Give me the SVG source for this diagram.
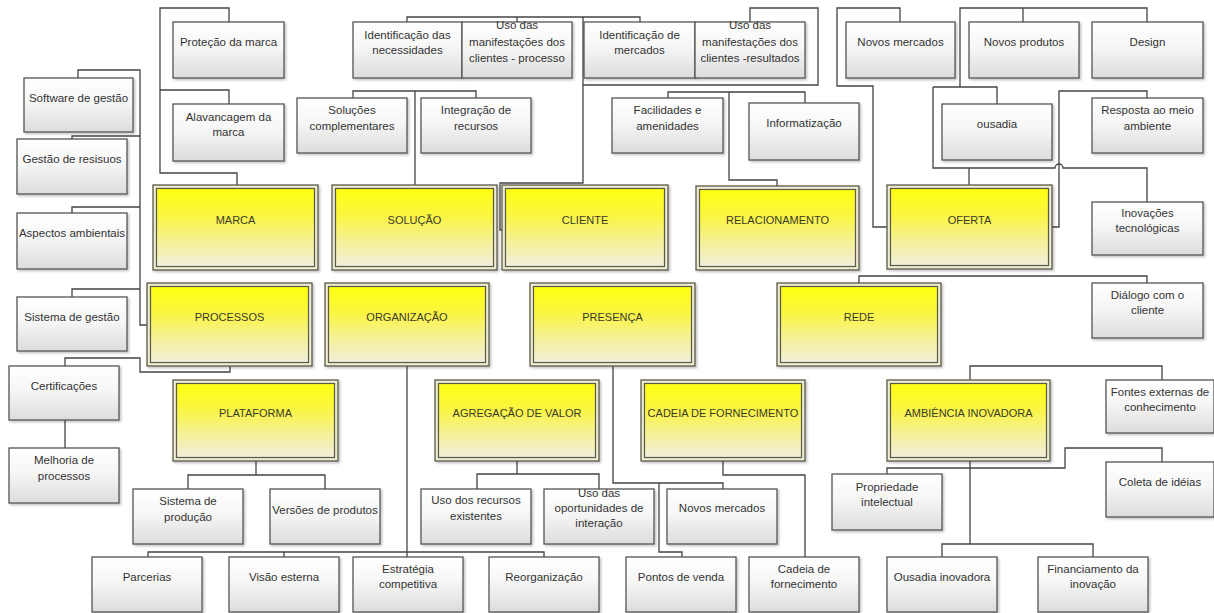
<svg xmlns="http://www.w3.org/2000/svg" width="1214" height="613" viewBox="0 0 1214 613">
<defs>
<linearGradient id="gGray" x1="0" y1="0" x2="0" y2="1">
<stop offset="0" stop-color="#ffffff"/>
<stop offset="0.45" stop-color="#f6f6f6"/>
<stop offset="1" stop-color="#dcdcdc"/>
</linearGradient>
<linearGradient id="gYel" x1="0" y1="0" x2="0" y2="1">
<stop offset="0" stop-color="#ffff10"/>
<stop offset="0.35" stop-color="#faf542"/>
<stop offset="0.7" stop-color="#f4f09c"/>
<stop offset="1" stop-color="#f1efdc"/>
</linearGradient>
<filter id="sh" x="-10%" y="-10%" width="125%" height="130%">
<feDropShadow dx="1.5" dy="1.5" stdDeviation="1.2" flood-color="#000" flood-opacity="0.25"/>
</filter>
<style>
.c{fill:none;stroke:#444;stroke-width:1.3}
.b{fill:url(#gGray);stroke:#555;stroke-width:1.3;filter:url(#sh)}
.yo{fill:#ecead0;stroke:#5a5a4a;stroke-width:1.3;filter:url(#sh)}
.yi{fill:url(#gYel);stroke:#5a5a4a;stroke-width:1.2}
.t{font-family:'Liberation Sans',Arial,sans-serif;font-size:11.5px;fill:#333;text-anchor:middle}
.yt{font-family:'Liberation Sans',Arial,sans-serif;font-size:11px;fill:#3a3a28;text-anchor:middle}
</style>
</defs>
<rect width="1214" height="613" fill="#ffffff"/>

<g id="connectors">
<!-- MARCA -->
<path class="c" d="M229,22 V8 H160 V173 H237 V185"/>
<path class="c" d="M160,90 H229 V104"/>
<!-- PROCESSOS left column -->
<path class="c" d="M78,78 V70 H140 V325 H147"/>
<path class="c" d="M72,139 V136 H140"/>
<path class="c" d="M72,213 V207 H140"/>
<path class="c" d="M72,297 V289 H140"/>
<path class="c" d="M65,366 V358 H140 V372 H230 V366"/>
<path class="c" d="M65,420 V448"/>
<!-- SOLUCAO -->
<path class="c" d="M353,98 V91 H476 V98"/>
<path class="c" d="M415,91 V185"/>
<!-- CLIENTE -->
<path class="c" d="M407,22 V17 H640 V22"/>
<path class="c" d="M517,17 V22"/>
<path class="c" d="M583,17 V183 H500 V230 H502"/>
<path class="c" d="M583,85 H818 V8 H750 V22"/>
<!-- RELACIONAMENTO -->
<path class="c" d="M668,98 V92 H805 V103"/>
<path class="c" d="M729,92 V180 H777 V186"/>
<!-- OFERTA -->
<path class="c" d="M900,22 V8 H837 V86 H873 V227 H887"/>
<path class="c" d="M960,87 V8 H1147 V22"/>
<path class="c" d="M1023,8 V22"/>
<path class="c" d="M933,87 H997 V104"/>
<path class="c" d="M933,87 V168 H1055 A4,4 0 0 1 1063,168 H1147 V202"/>
<path class="c" d="M969,168 V185"/>
<path class="c" d="M1052,227 H1059 V91 H1147 V98"/>
<!-- REDE -->
<path class="c" d="M859,283 V276 H1147 V283"/>
<!-- AMBIENCIA -->
<path class="c" d="M970,380 V366 H1162 V380"/>
<path class="c" d="M970,461 V544"/>
<path class="c" d="M942,557 V544 H1093 V557"/>
<path class="c" d="M1162,462 V448 H1065 V468 H887 V474"/>
<!-- ORGANIZACAO -->
<path class="c" d="M407,366 V557"/>
<path class="c" d="M148,557 V552 H544 V557"/>
<path class="c" d="M284,552 V557"/>
<!-- PLATAFORMA -->
<path class="c" d="M256,461 V475"/>
<path class="c" d="M188,489 V475 H325 V489"/>
<!-- AGREGACAO -->
<path class="c" d="M517,461 V474"/>
<path class="c" d="M477,489 V474 H599 V489"/>
<!-- PRESENCA -->
<path class="c" d="M613,366 V483 H723 V489"/>
<path class="c" d="M659,483 V552 H682 V557"/>
<!-- CADEIA -->
<path class="c" d="M723,461 V475 H805 V557"/>
</g>

<!-- Gray nodes -->
<g id="protecao"><rect class="b" x="173" y="22" width="111" height="56"/><text class="t" x="228.5" y="46">Proteção da marca</text></g>
<g id="alavancagem"><rect class="b" x="173" y="104" width="111" height="57"/><text class="t" x="228.5" y="121">Alavancagem da</text><text class="t" x="228.5" y="136">marca</text></g>
<g id="software"><rect class="b" x="24" y="78" width="109" height="54"/><text class="t" x="78.5" y="102">Software de gestão</text></g>
<g id="gestao-residuos"><rect class="b" x="17" y="139" width="110" height="55"/><text class="t" x="72" y="163">Gestão de resisuos</text></g>
<g id="aspectos"><rect class="b" x="17" y="213" width="110" height="56"/><text class="t" x="72" y="237">Aspectos ambientais</text></g>
<g id="sistema-gestao"><rect class="b" x="17" y="297" width="110" height="54"/><text class="t" x="72" y="321">Sistema de gestão</text></g>
<g id="certificacoes"><rect class="b" x="9" y="366" width="110" height="54"/><text class="t" x="64" y="390">Certificações</text></g>
<g id="melhoria"><rect class="b" x="9" y="448" width="110" height="55"/><text class="t" x="64" y="464">Melhoria de</text><text class="t" x="64" y="480">processos</text></g>
<g id="ident-necessidades"><rect class="b" x="353" y="22" width="109" height="56"/><text class="t" x="407.5" y="39">Identificação das</text><text class="t" x="407.5" y="54">necessidades</text></g>
<g id="uso-processo"><rect class="b" x="462" y="22" width="110" height="56"/><text class="t" x="517" y="29">Uso das</text><text class="t" x="517" y="46">manifestações dos</text><text class="t" x="517" y="62">clientes - processo</text></g>
<g id="solucoes-compl"><rect class="b" x="297" y="98" width="110" height="55"/><text class="t" x="352" y="114">Soluções</text><text class="t" x="352" y="130">complementares</text></g>
<g id="integracao"><rect class="b" x="421" y="98" width="110" height="55"/><text class="t" x="476" y="114">Integração de</text><text class="t" x="476" y="130">recursos</text></g>
<g id="ident-mercados"><rect class="b" x="584" y="22" width="111" height="56"/><text class="t" x="639.5" y="39">Identificação de</text><text class="t" x="639.5" y="54">mercados</text></g>
<g id="uso-resultados"><rect class="b" x="695" y="22" width="110" height="56"/><text class="t" x="750" y="29">Uso das</text><text class="t" x="750" y="46">manifestações dos</text><text class="t" x="750" y="62">clientes -resultados</text></g>
<g id="facilidades"><rect class="b" x="612" y="98" width="111" height="55"/><text class="t" x="667.5" y="114">Facilidades e</text><text class="t" x="667.5" y="130">amenidades</text></g>
<g id="informatizacao"><rect class="b" x="749" y="103" width="110" height="57"/><text class="t" x="804" y="127">Informatização</text></g>
<g id="novos-mercados-top"><rect class="b" x="846" y="22" width="109" height="56"/><text class="t" x="900.5" y="46">Novos mercados</text></g>
<g id="novos-produtos"><rect class="b" x="969" y="22" width="110" height="56"/><text class="t" x="1024" y="46">Novos produtos</text></g>
<g id="design"><rect class="b" x="1092" y="22" width="111" height="56"/><text class="t" x="1147.5" y="46">Design</text></g>
<g id="ousadia"><rect class="b" x="942" y="104" width="110" height="56"/><text class="t" x="997" y="128">ousadia</text></g>
<g id="resposta"><rect class="b" x="1092" y="98" width="111" height="55"/><text class="t" x="1147.5" y="114">Resposta ao meio</text><text class="t" x="1147.5" y="130">ambiente</text></g>
<g id="inovacoes"><rect class="b" x="1092" y="202" width="111" height="53"/><text class="t" x="1147.5" y="217">Inovações</text><text class="t" x="1147.5" y="232">tecnológicas</text></g>
<g id="dialogo"><rect class="b" x="1092" y="283" width="111" height="55"/><text class="t" x="1147.5" y="299">Diálogo com o</text><text class="t" x="1147.5" y="314">cliente</text></g>
<g id="fontes"><rect class="b" x="1106" y="380" width="108" height="53"/><text class="t" x="1160" y="396">Fontes externas de</text><text class="t" x="1160" y="411">conhecimento</text></g>
<g id="coleta"><rect class="b" x="1106" y="462" width="108" height="55"/><text class="t" x="1160" y="486">Coleta de idéias</text></g>
<g id="propriedade"><rect class="b" x="832" y="474" width="110" height="56"/><text class="t" x="887" y="491">Propriedade</text><text class="t" x="887" y="506">intelectual</text></g>
<g id="ousadia-inovadora"><rect class="b" x="887" y="557" width="110" height="55"/><text class="t" x="942" y="581">Ousadia inovadora</text></g>
<g id="financiamento"><rect class="b" x="1038" y="557" width="110" height="55"/><text class="t" x="1093" y="573">Financiamento da</text><text class="t" x="1093" y="588">inovação</text></g>
<g id="cadeia-fornecimento-low"><rect class="b" x="749" y="557" width="110" height="55"/><text class="t" x="804" y="573">Cadeia de</text><text class="t" x="804" y="588">fornecimento</text></g>
<g id="pontos-venda"><rect class="b" x="626" y="557" width="110" height="55"/><text class="t" x="681" y="581">Pontos de venda</text></g>
<g id="novos-mercados-low"><rect class="b" x="667" y="489" width="110" height="55"/><text class="t" x="722" y="512">Novos mercados</text></g>
<g id="uso-oportunidades"><rect class="b" x="544" y="489" width="110" height="55"/><text class="t" x="599" y="497">Uso das</text><text class="t" x="599" y="512">oportunidades de</text><text class="t" x="599" y="527">interação</text></g>
<g id="uso-recursos"><rect class="b" x="421" y="489" width="110" height="55"/><text class="t" x="476" y="504">Uso dos recursos</text><text class="t" x="476" y="520">existentes</text></g>
<g id="reorganizacao"><rect class="b" x="489" y="557" width="110" height="55"/><text class="t" x="544" y="581">Reorganização</text></g>
<g id="estrategia"><rect class="b" x="353" y="557" width="110" height="55"/><text class="t" x="408" y="573">Estratégia</text><text class="t" x="408" y="588">competitiva</text></g>
<g id="visao"><rect class="b" x="229" y="557" width="110" height="55"/><text class="t" x="284" y="581">Visão esterna</text></g>
<g id="parcerias"><rect class="b" x="92" y="557" width="110" height="55"/><text class="t" x="147" y="581">Parcerias</text></g>
<g id="sistema-producao"><rect class="b" x="133" y="489" width="110" height="55"/><text class="t" x="188" y="505">Sistema de</text><text class="t" x="188" y="521">produção</text></g>
<g id="versoes"><rect class="b" x="270" y="489" width="110" height="55"/><text class="t" x="325" y="514">Versões de produtos</text></g>

<!-- Yellow nodes -->
<g id="marca"><rect class="yo" x="153" y="185" width="165" height="85"/><rect class="yi" x="156.5" y="188.5" width="158" height="78"/><text class="yt" x="235.5" y="224">MARCA</text></g>
<g id="solucao"><rect class="yo" x="332" y="185" width="165" height="85"/><rect class="yi" x="335.5" y="188.5" width="158" height="78"/><text class="yt" x="414.5" y="224">SOLUÇÃO</text></g>
<g id="cliente"><rect class="yo" x="502" y="185" width="166" height="85"/><rect class="yi" x="505.5" y="188.5" width="159" height="78"/><text class="yt" x="585" y="224">CLIENTE</text></g>
<g id="relacionamento"><rect class="yo" x="696" y="186" width="163" height="84"/><rect class="yi" x="699.5" y="189.5" width="156" height="77"/><text class="yt" x="777.5" y="224">RELACIONAMENTO</text></g>
<g id="oferta"><rect class="yo" x="887" y="185" width="165" height="84"/><rect class="yi" x="890.5" y="188.5" width="158" height="77"/><text class="yt" x="969.5" y="224">OFERTA</text></g>
<g id="processos"><rect class="yo" x="147" y="283" width="165" height="83"/><rect class="yi" x="150.5" y="286.5" width="158" height="76"/><text class="yt" x="229.5" y="321">PROCESSOS</text></g>
<g id="organizacao"><rect class="yo" x="325" y="283" width="164" height="83"/><rect class="yi" x="328.5" y="286.5" width="157" height="76"/><text class="yt" x="407" y="321">ORGANIZAÇÃO</text></g>
<g id="presenca"><rect class="yo" x="530" y="283" width="165" height="83"/><rect class="yi" x="533.5" y="286.5" width="158" height="76"/><text class="yt" x="612.5" y="321">PRESENÇA</text></g>
<g id="rede"><rect class="yo" x="777" y="283" width="164" height="83"/><rect class="yi" x="780.5" y="286.5" width="157" height="76"/><text class="yt" x="859" y="321">REDE</text></g>
<g id="plataforma"><rect class="yo" x="173" y="380" width="165" height="81"/><rect class="yi" x="176.5" y="383.5" width="158" height="74"/><text class="yt" x="255.5" y="417">PLATAFORMA</text></g>
<g id="agregacao"><rect class="yo" x="435" y="380" width="164" height="81"/><rect class="yi" x="438.5" y="383.5" width="157" height="74"/><text class="yt" x="517" y="417">AGREGAÇÃO DE VALOR</text></g>
<g id="cadeia"><rect class="yo" x="641" y="380" width="164" height="81"/><rect class="yi" x="644.5" y="383.5" width="157" height="74"/><text class="yt" x="723" y="417">CADEIA DE FORNECIMENTO</text></g>
<g id="ambiencia"><rect class="yo" x="887" y="380" width="163" height="81"/><rect class="yi" x="890.5" y="383.5" width="156" height="74"/><text class="yt" x="968.5" y="417">AMBIÊNCIA INOVADORA</text></g>
</svg>
